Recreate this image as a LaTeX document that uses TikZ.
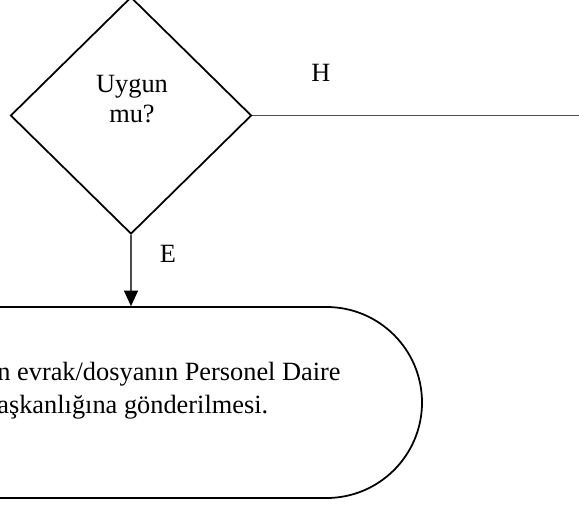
\documentclass[tikz,border=0pt]{standalone}
\usepackage{fontspec}
\setmainfont{Liberation Serif}
\usetikzlibrary{arrows.meta,shapes.geometric,shapes.misc}

\begin{document}
\begin{tikzpicture}[
  decision/.style={draw, diamond, line width=1pt, minimum width=4.82cm, minimum height=4.74cm, inner sep=0pt},
  endbox/.style={draw, rounded rectangle, rounded rectangle left arc=none, line width=1pt, minimum width=8.84cm, minimum height=3.82cm, inner sep=0pt},
  txt/.style={font=\fontsize{15}{17.5}\selectfont, align=center, inner sep=0pt},
  boxtxt/.style={font=\fontsize{15}{18.7}\selectfont, align=left, inner sep=0pt},
  lbl/.style={font=\fontsize{15}{18}\selectfont, inner sep=0pt},
  line/.style={draw=black!70, line width=0.7pt},
  arrow/.style={line, -{Triangle[width=2.8mm, length=3.1mm, black]}}
]

\useasboundingbox (0,0) rectangle (11.58,-10.16);

\node[decision] (check) at (2.62, -2.31) {};
\node[txt] (checktxt) at (2.64, -1.98) {Uygun\\mu?};

\coordinate (noend) at (11.58, -2.31);
\draw[line] (check.east) -- (noend);
\node[lbl] (no) at (6.42, -1.46) {H};

\node[endbox] (send) at (4.02, -8.05) {};
\node[boxtxt, anchor=west] (sendtxt) at (-0.06, -7.81) {n evrak/dosyanın Personel Daire\\aşkanlığına gönderilmesi.};

\draw[arrow] (check.south) -- (check.south |- send.north);
\node[lbl] (yes) at (3.36, -5.08) {E};

\end{tikzpicture}
\end{document}
